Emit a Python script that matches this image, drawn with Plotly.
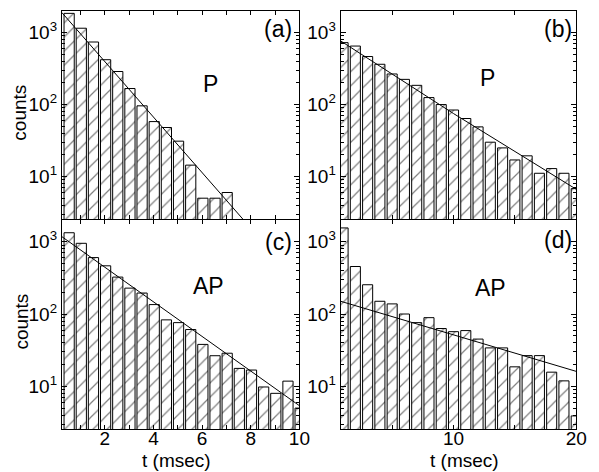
import plotly.graph_objects as go

# ---------------- data ----------------
# panels (a),(c): 0.5 ms bins ; panels (b),(d): 1 ms bins
t_short = [0.53 + 0.5 * k for k in range(20)]
t_long = [1 + k for k in range(20)]

counts_a = [1850, 1150, 740, 420, 288, 167, 96, 58, 48, 31, 14.4, 5.0, 5.0, 6.0]
counts_b = [725, 650, 465, 363, 266, 224, 185, 125, 100, 84, 64, 49, 30, 25,
            17, 19.4, 11.1, 12.9, 11.1, 6.8]
counts_c = [1330, 950, 603, 464, 324, 228, 195, 135, 83, 76, 61, 38, 26.5,
            28.7, 17.7, 16.8, 9.8, 8.0, 11.8, 5.0]
counts_d = [1550, 454, 254, 150, 138, 100, 76, 89, 63, 57, 59, 45, 34, 34,
            18.6, 26.6, 26.6, 15.7, 11.9, 3.9]

# fitted exponential lines (end points)
fit_a_x, fit_a_y = [0.23, 8.0], [1900, 1.92]
fit_b_x, fit_b_y = [0.8, 10.0, 20.0], [766, 75, 6.65]
fit_c_x, fit_c_y = [0.23, 10.0], [1175, 5.4]
fit_d_x, fit_d_y = [0.8, 20.0], [150, 16.1]

panel_tags = ["(a)", "(b)", "(c)", "(d)"]
panel_labels = ["P", "P", "AP", "AP"]
ytick_vals = [10, 100, 1000]
ytick_text = ["10<sup>1</sup>", "10<sup>2</sup>", "10<sup>3</sup>"]
xtick_short = list(range(1, 11))
xtick_short_text = ["", "2", "", "4", "", "6", "", "8", "", "10"]
xtick_long = [5, 10, 15, 20]
xtick_long_text = ["", "10", "", "20"]
x_title = "t (msec)"
y_title = "counts"

FONT = "Arial, 'Liberation Sans', sans-serif"
W, H = 599, 472

# ---------------- geometry (pixels) ----------------
xl = [(63, 305), (347, 587)]
yl = [(11, 219), (220, 429)]


def xd(a, b):
    return [a / W, b / W]


def yd(top, bot):
    return [1 - bot / H, 1 - top / H]


fig = go.Figure()

panels = [
    (t_short, counts_a, fit_a_x, fit_a_y, 0, 0, 0.42),
    (t_long, counts_b, fit_b_x, fit_b_y, 1, 0, 0.82),
    (t_short, counts_c, fit_c_x, fit_c_y, 0, 1, 0.42),
    (t_long, counts_d, fit_d_x, fit_d_y, 1, 1, 0.82),
]

minor_y = [v * 10 ** e for e in range(0, 4) for v in range(2, 10) if v * 10 ** e < 2100]

for i, (tx, cy, fx, fy, col, row, bw) in enumerate(panels):
    n = i + 1
    xa = "x" if n == 1 else f"x{n}"
    ya = "y" if n == 1 else f"y{n}"
    fig.add_trace(go.Bar(
        x=tx[:len(cy)], y=cy, width=bw, xaxis=xa, yaxis=ya,
        marker=dict(color="white",
                    line=dict(color="black", width=1),
                    pattern=dict(shape="/", size=10, solidity=0.12,
                                 fgcolor="black", bgcolor="white")),
        showlegend=False, hoverinfo="skip"))
    fig.add_trace(go.Scatter(
        x=fx, y=fy, mode="lines", xaxis=xa, yaxis=ya,
        line=dict(color="black", width=1), showlegend=False, hoverinfo="skip"))

    short = col == 0
    xkey = "xaxis" if n == 1 else f"xaxis{n}"
    ykey = "yaxis" if n == 1 else f"yaxis{n}"
    fig.layout[xkey] = dict(
        domain=xd(*xl[col]), anchor=ya,
        range=[0.23, 10] if short else [0.8, 20],
        tickmode="array",
        tickvals=xtick_short if short else xtick_long,
        ticktext=xtick_short_text if short else xtick_long_text,
        showticklabels=(row == 1),
        ticks="inside", ticklen=4, tickcolor="black",
        ticklabelstandoff=-8,
        showline=True, linecolor="black", linewidth=1, mirror="ticks",
        showgrid=False, zeroline=False,
        tickfont=dict(family=FONT, size=19, color="black"),
    )
    fig.layout[ykey] = dict(
        domain=yd(*yl[row]), anchor=xa, type="log",
        range=[0.41, 3.30],
        tickmode="array", tickvals=ytick_vals, ticktext=ytick_text,
        ticks="inside", ticklen=5, tickcolor="black",
        minor=dict(tickmode="array", tickvals=minor_y, ticks="inside",
                   ticklen=3, tickcolor="black"),
        showline=True, linecolor="black", linewidth=1, mirror="ticks",
        showgrid=False, zeroline=False,
        tickfont=dict(family=FONT, size=19, color="black"),
    )

ann = []
# panel tags and labels
tag_pos = [(283, 29), (568, 29), (284, 242), (568, 240)]
lab_pos = [(214, 84), (497, 78), (212, 286), (500, 288)]
for (px, py), t in zip(tag_pos + lab_pos, panel_tags + panel_labels):
    ann.append(dict(x=px / W, y=1 - py / H, xref="paper", yref="paper",
                    text=t, showarrow=False, xanchor="center", yanchor="middle",
                    font=dict(family=FONT, size=23, color="black")))
# axis titles
for px, py in [(180, 460), (473, 460)]:
    ann.append(dict(x=px / W, y=1 - py / H, xref="paper", yref="paper",
                    text=x_title, showarrow=False, xanchor="center", yanchor="middle",
                    font=dict(family=FONT, size=19, color="black")))
for px, py in [(19, 113), (21, 322)]:
    ann.append(dict(x=px / W, y=1 - py / H, xref="paper", yref="paper",
                    text=y_title, showarrow=False, textangle=-90,
                    xanchor="center", yanchor="middle",
                    font=dict(family=FONT, size=19, color="black")))

fig.update_layout(
    width=W, height=H, margin=dict(l=0, r=0, t=0, b=0),
    paper_bgcolor="white", plot_bgcolor="white",
    barmode="overlay", annotations=ann,
)

fig.write_html("out.html")
